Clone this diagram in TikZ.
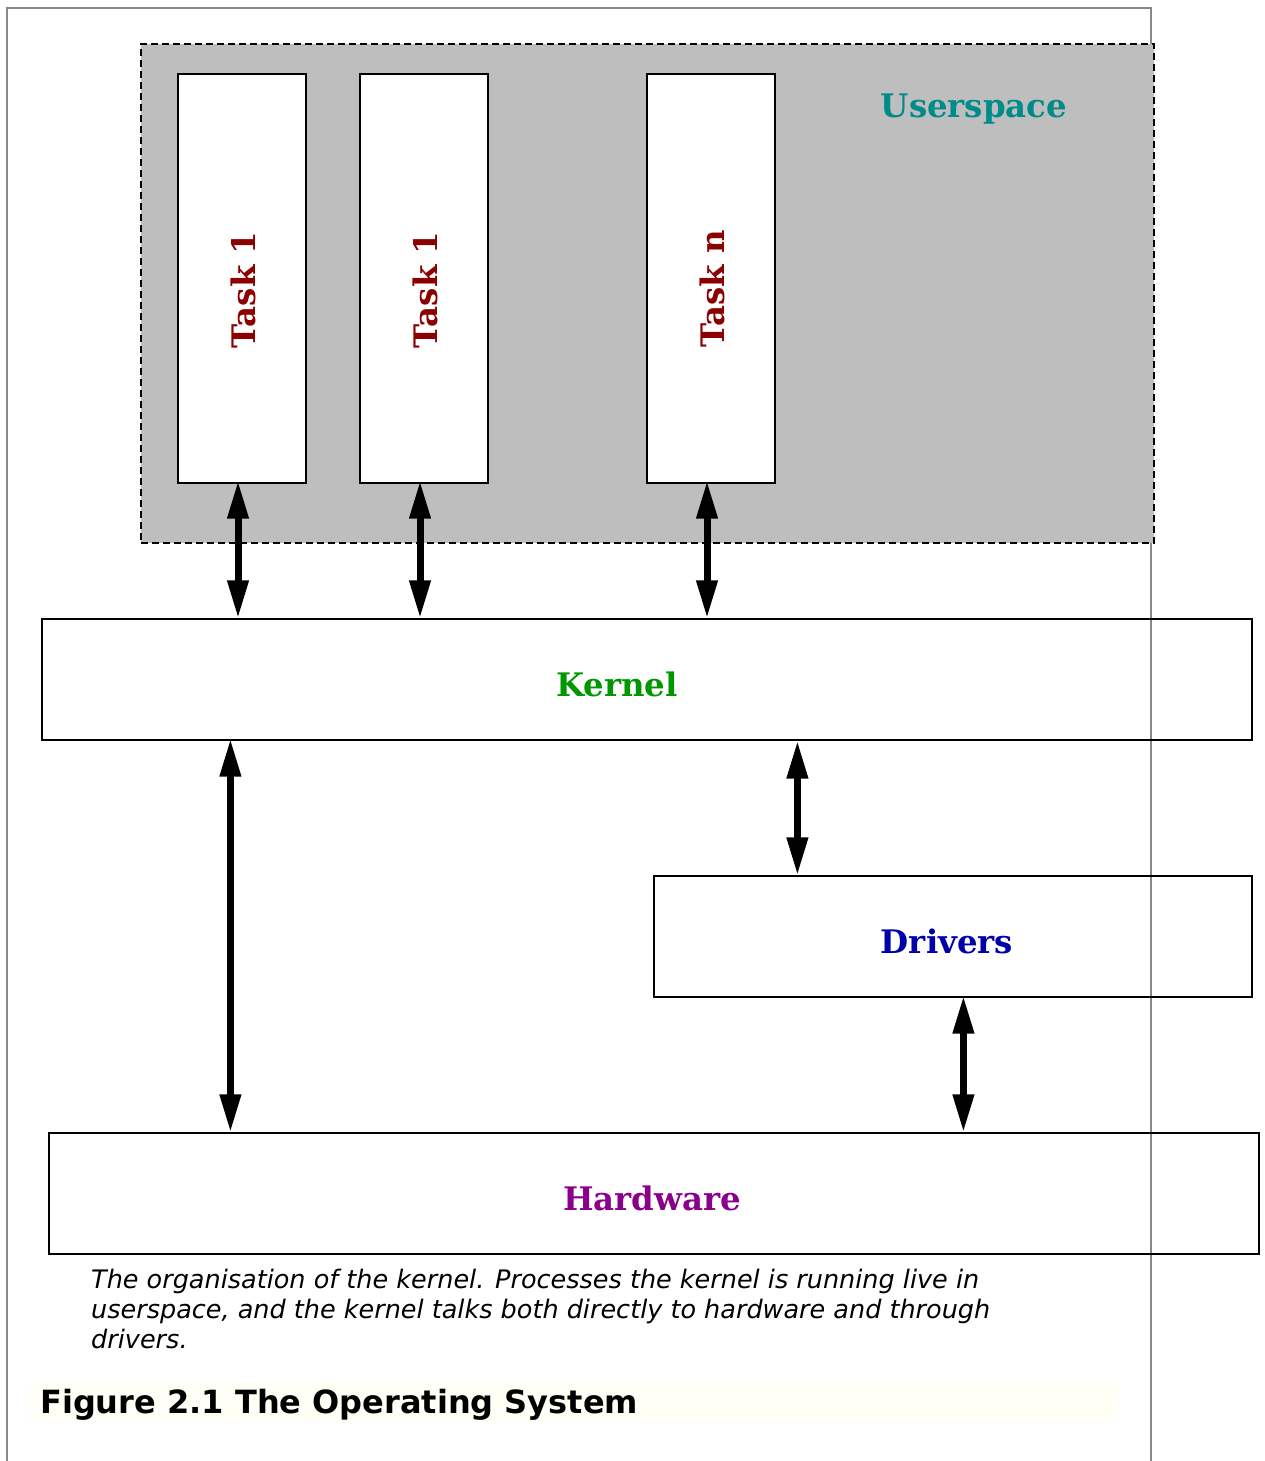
\documentclass[tikz,border=0pt]{standalone}
\usepackage{fontspec}
\usetikzlibrary{arrows.meta}
\newfontfamily\lblfont{DejaVu Serif}[BoldFont={DejaVu Serif Bold}]
\newfontfamily\capfont{DejaVu Sans}
\definecolor{taskred}{RGB}{139,0,0}
\definecolor{userteal}{RGB}{0,139,139}
\definecolor{kerngreen}{RGB}{0,150,0}
\definecolor{drvblue}{RGB}{0,0,170}
\definecolor{hwpurple}{RGB}{139,0,139}
\definecolor{framegray}{RGB}{136,136,136}
\definecolor{usergray}{RGB}{190,190,190}
\definecolor{titlebg}{RGB}{255,255,245}
\tikzset{
  taskbox/.style={draw=black, fill=white, line width=1.2pt, minimum width=128pt, minimum height=409pt, inner sep=0pt},
  layerbox/.style={draw=black, line width=1.2pt, minimum height=121pt, inner sep=0pt},
  lbl/.style={font=\lblfont\bfseries\fontsize{32.4}{38}\selectfont, inner sep=0pt},
  biarrow/.style={line width=7pt, {Triangle[length=38pt,width=20pt]}-{Triangle[length=38pt,width=20pt]}},
  captext/.style={font=\capfont\itshape\fontsize{25.5}{30}\selectfont, anchor=base west, inner sep=0pt},
}
\begin{document}
\begin{tikzpicture}[x=1pt,y=-1pt]
\useasboundingbox (0,0) rectangle (1265,1461);
\fill[white] (0,0) rectangle (1265,1461);
% outer frame
\draw[framegray, line width=2pt] (7,1470) -- (7,8) -- (1151,8) -- (1151,1470);
% title background
\fill[titlebg] (30,1383) rectangle (1117,1421);
% userspace
\node[draw=black, dash pattern=on 7pt off 4pt, fill=usergray, line width=1.3pt, minimum width=1013pt, minimum height=499pt, inner sep=0pt] (us) at (647.5,293.5) {};
\node[lbl, text=userteal] (uslbl) at (974,109) {Userspace};
% tasks
\node[taskbox] (t1) at (242,278.5) {};
\node[taskbox] (t2) at (424,278.5) {};
\node[taskbox] (tn) at (711,278.5) {};
\node[lbl, text=taskred, rotate=90] (t1l) at (243,290) {Task 1};
\node[lbl, text=taskred, rotate=90] (t2l) at (425,290) {Task 1};
\node[lbl, text=taskred, rotate=90] (tnl) at (712,289) {Task n};
% layers
\node[layerbox, minimum width=1210pt] (kernel) at (647,679.5) {};
\node[lbl, text=kerngreen] (kl) at (617,684) {Kernel};
\node[layerbox, minimum width=598pt] (drv) at (953,936.5) {};
\node[lbl, text=drvblue] (dl) at (947,941) {Drivers};
\node[layerbox, minimum width=1210pt] (hw) at (654,1193.5) {};
\node[lbl, text=hwpurple] (hl) at (652,1198) {Hardware};
% arrows
\draw[biarrow] ([xshift=-4pt,yshift=3pt]t1.south) -- ([xshift=-4pt]t1.south |- kernel.north);
\draw[biarrow] ([xshift=-4pt,yshift=3pt]t2.south) -- ([xshift=-4pt]t2.south |- kernel.north);
\draw[biarrow] ([xshift=-4pt,yshift=3pt]tn.south) -- ([xshift=-4pt]tn.south |- kernel.north);
\draw[biarrow] ([xshift=189pt,yshift=2pt]kernel.south west) -- ([xshift=189pt]kernel.south west |- hw.north);
\draw[biarrow] ([xshift=144pt]drv.north west |- kernel.south) -- ([xshift=144pt]drv.north west);
\draw[biarrow] ([xshift=310pt,yshift=2pt]drv.south west) -- ([xshift=310pt]drv.south west |- hw.north);
% caption
\node[captext] (c1) at (91,1288) {The organisation of the kernel. Processes the kernel is running live in};
\node[captext] (c2) at (91,1318) {userspace, and the kernel talks both directly to hardware and through};
\node[captext] (c3) at (91,1348) {drivers.};
\node[font=\capfont\bfseries\fontsize{32}{38}\selectfont, anchor=base west, inner sep=0pt] (title) at (40,1413) {Figure 2.1 The Operating System};
\end{tikzpicture}
\end{document}
